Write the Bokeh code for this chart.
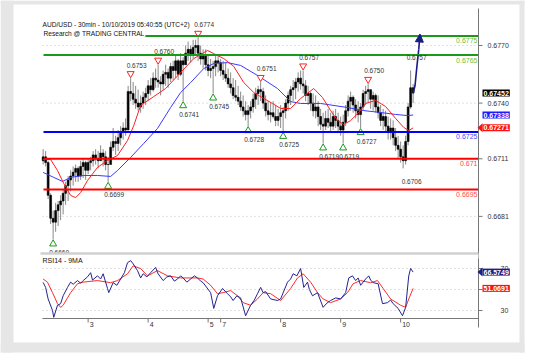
import numpy as np
from bokeh.plotting import figure
from bokeh.models import (Range1d, Label, LabelSet, ColumnDataSource, BoxAnnotation, PolyAnnotation,
                          Arrow, NormalHead)
from bokeh.core.properties import value
from bokeh.embed import file_html
from bokeh.resources import INLINE

# ---------------- data (AUD/USD 30min, hourly candles) ----------------
candle_high = [0.6716, 0.6715, 0.6710, 0.6693, 0.6684, 0.6688, 0.6689, 0.6692, 0.6695, 0.6699,
               0.6702, 0.6705, 0.6707, 0.6708, 0.6707, 0.6710, 0.6711, 0.6710, 0.6711, 0.6712,
               0.6715, 0.6716, 0.6715, 0.6718, 0.6716, 0.6715, 0.6712, 0.6720, 0.6727, 0.6723,
               0.6726, 0.6728, 0.6730, 0.6732, 0.6749, 0.6753, 0.6751, 0.6749, 0.6747, 0.6744,
               0.6746, 0.6748, 0.6752, 0.6753, 0.6756, 0.6758, 0.6760, 0.6754, 0.6757, 0.6760,
               0.6758, 0.6761, 0.6762, 0.6765, 0.6763, 0.6766, 0.6764, 0.6770, 0.6772, 0.6770,
               0.6773, 0.6773, 0.6774, 0.6770, 0.6768, 0.6768, 0.6765, 0.6763, 0.6762, 0.6765,
               0.6765, 0.6763, 0.6762, 0.6761, 0.6758, 0.6756, 0.6753, 0.6752, 0.6749, 0.6746,
               0.6744, 0.6741, 0.6739, 0.6741, 0.6745, 0.6748, 0.6749, 0.6751, 0.6748, 0.6744,
               0.6741, 0.6740, 0.6741, 0.6739, 0.6737, 0.6739, 0.6738, 0.6742, 0.6746, 0.6749,
               0.6752, 0.6753, 0.6756, 0.6757, 0.6757, 0.6752, 0.6749, 0.6746, 0.6745, 0.6744,
               0.6741, 0.6737, 0.6735, 0.6736, 0.6737, 0.6735, 0.6736, 0.6737, 0.6735, 0.6733,
               0.6734, 0.6739, 0.6744, 0.6746, 0.6744, 0.6742, 0.6741, 0.6740, 0.6747, 0.6749,
               0.6750, 0.6747, 0.6746, 0.6745, 0.6744, 0.6739, 0.6737, 0.6736, 0.6733, 0.6732,
               0.6731, 0.6727, 0.6723, 0.6720, 0.6718, 0.6723, 0.6740, 0.6757, 0.6750]
candle_low = [0.6708, 0.6707, 0.6690, 0.6677, 0.6669, 0.6673, 0.6676, 0.6679, 0.6682, 0.6687,
              0.6689, 0.6694, 0.6697, 0.6699, 0.6699, 0.6700, 0.6701, 0.6700, 0.6703, 0.6705,
              0.6707, 0.6708, 0.6706, 0.6710, 0.6707, 0.6705, 0.6699, 0.6710, 0.6715, 0.6713,
              0.6715, 0.6718, 0.6721, 0.6723, 0.6728, 0.6741, 0.6739, 0.6737, 0.6736, 0.6735,
              0.6737, 0.6739, 0.6741, 0.6744, 0.6746, 0.6748, 0.6748, 0.6744, 0.6747, 0.6749,
              0.6748, 0.6751, 0.6752, 0.6753, 0.6752, 0.6754, 0.6741, 0.6760, 0.6762, 0.6761,
              0.6763, 0.6765, 0.6762, 0.6760, 0.6758, 0.6757, 0.6754, 0.6753, 0.6745, 0.6754,
              0.6756, 0.6754, 0.6752, 0.6751, 0.6748, 0.6745, 0.6742, 0.6741, 0.6739, 0.6736,
              0.6733, 0.6731, 0.6728, 0.6732, 0.6735, 0.6737, 0.6739, 0.6741, 0.6737, 0.6733,
              0.6731, 0.6730, 0.6732, 0.6728, 0.6728, 0.6727, 0.6725, 0.6732, 0.6736, 0.6739,
              0.6741, 0.6742, 0.6746, 0.6747, 0.6745, 0.6741, 0.6739, 0.6736, 0.6733, 0.6732,
              0.6728, 0.6726, 0.6719, 0.6726, 0.6727, 0.6725, 0.6726, 0.6727, 0.6725, 0.6723,
              0.6719, 0.6728, 0.6733, 0.6736, 0.6735, 0.6732, 0.6730, 0.6727, 0.6736, 0.6739,
              0.6740, 0.6737, 0.6736, 0.6735, 0.6732, 0.6728, 0.6726, 0.6725, 0.6721, 0.6721,
              0.6718, 0.6715, 0.6711, 0.6709, 0.6706, 0.6708, 0.6718, 0.6737, 0.6740]
candle_close = [0.6712, 0.6709, 0.6692, 0.6680, 0.6678, 0.6684, 0.6687, 0.6689, 0.6693, 0.6697,
                0.6700, 0.6702, 0.6704, 0.6706, 0.6702, 0.6707, 0.6709, 0.6705, 0.6709, 0.6710,
                0.6713, 0.6711, 0.6710, 0.6714, 0.6712, 0.6708, 0.6708, 0.6717, 0.6720, 0.6719,
                0.6722, 0.6725, 0.6727, 0.6726, 0.6746, 0.6745, 0.6742, 0.6740, 0.6738, 0.6740,
                0.6743, 0.6745, 0.6749, 0.6747, 0.6753, 0.6752, 0.6751, 0.6750, 0.6755, 0.6756,
                0.6753, 0.6759, 0.6757, 0.6762, 0.6755, 0.6762, 0.6760, 0.6766, 0.6768, 0.6765,
                0.6769, 0.6770, 0.6766, 0.6763, 0.6765, 0.6760, 0.6757, 0.6758, 0.6759, 0.6762,
                0.6761, 0.6757, 0.6755, 0.6753, 0.6750, 0.6748, 0.6744, 0.6743, 0.6741, 0.6738,
                0.6736, 0.6734, 0.6736, 0.6738, 0.6742, 0.6745, 0.6747, 0.6746, 0.6740, 0.6736,
                0.6734, 0.6735, 0.6733, 0.6731, 0.6733, 0.6735, 0.6736, 0.6740, 0.6744, 0.6747,
                0.6748, 0.6751, 0.6753, 0.6750, 0.6749, 0.6744, 0.6745, 0.6740, 0.6736, 0.6738,
                0.6733, 0.6729, 0.6728, 0.6732, 0.6730, 0.6728, 0.6733, 0.6731, 0.6728, 0.6726,
                0.6730, 0.6736, 0.6741, 0.6743, 0.6739, 0.6736, 0.6734, 0.6738, 0.6745, 0.6746,
                0.6747, 0.6742, 0.6744, 0.6738, 0.6735, 0.6731, 0.6733, 0.6728, 0.6725, 0.6727,
                0.6722, 0.6718, 0.6716, 0.6712, 0.6710, 0.6720, 0.6738, 0.6748, 0.67452]
first_open = 0.6710
candle_idx = list(range(0, 2 * len(candle_close), 2))   # 30-min bar index of each hourly candle

# moving averages
ma_fast_idx = [0, 6, 11.5, 16.5, 22, 26, 30, 35.5, 43.5, 51.5, 59.5, 67.5, 72.5, 78, 88.5, 98, 110,
               120.5, 131.5, 136.5, 144.5, 152.5, 160.5, 168.5, 176.5, 183.5, 190, 198, 206, 216.5,
               223.5, 230, 235.5, 240.5, 246, 252.5, 258, 266, 274, 282, 288.5, 292.5, 296]
ma_fast = [0.67106, 0.67106, 0.67049, 0.66981, 0.66919, 0.66908, 0.66934, 0.66997, 0.67065, 0.67101,
           0.67127, 0.67205, 0.67283, 0.67388, 0.67434, 0.67476, 0.67559, 0.67632, 0.67674, 0.67658,
           0.67632, 0.67591, 0.67507, 0.67455, 0.67424, 0.67398, 0.67372, 0.67372, 0.67424, 0.67476,
           0.67429, 0.67361, 0.67309, 0.67289, 0.67309, 0.67351, 0.67398, 0.67414, 0.67382, 0.67320,
           0.67273, 0.67257, 0.67271]
ma_slow_idx = [0, 8.5, 15.5, 22, 32.5, 43.5, 54, 59.5, 70, 80.5, 91.5, 102, 110, 118, 128.5, 136.5,
               147.5, 158, 171.5, 187.5, 198, 206, 222, 243.5, 256.5, 270, 282, 291.5, 296]
ma_slow = [0.67039, 0.67013, 0.66992, 0.67013, 0.67023, 0.67023, 0.67018, 0.67049, 0.67117, 0.67190,
           0.67268, 0.67377, 0.67455, 0.67507, 0.67580, 0.67606, 0.67611, 0.67596, 0.67544, 0.67476,
           0.67408, 0.67398, 0.67398, 0.67377, 0.67361, 0.67351, 0.67341, 0.67335, 0.67338]

# RSI14 and its 9-period MA
rsi_idx = [0, 2, 4, 7.5, 8.5, 11.5, 14, 16, 19.5, 22, 24, 27.5, 30, 32, 35.5, 38, 39.5, 43.5, 46, 48,
           51.5, 52.5, 56, 59, 62, 65, 67.5, 70, 72, 75.5, 78, 80, 83, 86, 90, 92, 96, 99, 102, 105,
           107.5, 110, 112, 115, 118, 121, 123.5, 126, 128, 134, 136.5, 139.5, 143.5, 147.5, 150,
           152, 155, 158, 162, 166, 169, 171.5, 174, 176, 178, 182, 187.5, 190, 195.5, 198, 200,
           203, 206, 208.5, 211.5, 213, 215.5, 219.5, 224, 227, 230, 234, 238, 242, 244.5, 247.5,
           250, 252, 254, 258, 260.5, 262, 264, 268, 271.5, 275.5, 278, 280, 284, 287.5, 290,
           292.5, 294, 296]
rsi = [56.7, 52, 41, 30, 23.5, 35, 36.5, 44, 52, 57, 55, 58.5, 56, 58.5, 62, 66, 59, 63, 60, 65,
       51, 47, 56.5, 54, 60, 66, 75.5, 77.5, 74.5, 68, 61, 65, 62, 66, 71, 65, 58.5, 62, 63, 58,
       60, 63, 61, 57, 60, 63, 61, 58, 56.5, 47, 32, 44, 51, 46, 43,
       39.5, 44, 42, 25, 35, 40, 46, 52, 47, 48, 41, 39.5, 41, 57, 60, 65,
       63, 70, 52, 57, 50, 44, 47, 33, 37, 39.5, 42, 41, 47, 61, 63,
       58.5, 61, 54, 60, 63, 59, 56.5, 55.5, 36.5, 37.5, 40, 36.5, 32, 25, 33,
       63, 70, 66.5749]
rsi_ma_idx = [0, 3.5, 7.5, 11.5, 14, 16, 22, 27.5, 32, 43.5, 54, 59.5, 67.5, 72, 78, 83.5, 91.5, 99.5,
              110, 123.5, 128, 134, 139.5, 144, 150, 155.5, 160, 166, 171.5, 176, 182, 190, 198,
              203.5, 208, 214, 219.5, 224, 230, 238, 243.5, 248, 254, 262, 267.5, 272, 278, 286,
              290, 292.5, 296]
rsi_ma = [60, 57, 47, 36.5, 33, 35, 47, 55.5, 57, 58.5, 56.5, 58.5, 65, 72.5, 70, 63, 68, 63,
          61, 61, 60, 54, 46, 47, 49, 44, 37.5, 35, 41, 47, 46, 39.5, 51,
          61, 65, 57, 47, 41, 37.5, 41, 47, 55.5, 58.5, 56.5, 58.5, 51, 41, 35,
          33, 41, 51.0691]

# swing highs / lows
high_idx = [70, 92, 124, 174, 208, 260]
high_val = [0.6753, 0.6760, 0.6774, 0.6751, 0.6757, 0.6750]
low_idx = [8, 52, 112, 136, 164, 192, 224, 240, 254]
low_val = [0.6669, 0.6699, 0.6741, 0.6745, 0.6728, 0.6725, 0.6719, 0.6719, 0.6727]
note_idx = [294, 290]            # labelled extremes without a marker
note_val = [0.6757, 0.6706]
note_is_high = [True, False]

# key levels
level_val = [0.6775, 0.6765, 0.6725, 0.6711, 0.6695]
level_text = ["0.6775", "0.6765", "0.6725", "0.671", "0.6695"]
level_kind = ["target", "target", "pivot", "support", "support"]

# projected path (arrow)
proj_idx = [296, 297.5, 299, 300.5, 301.5]
proj_val = [0.67452, 0.6749, 0.6759, 0.6768, 0.6776]

# axes
price_ticks = [0.6681, 0.6711, 0.6740, 0.6770]
rsi_ticks = [30, 50, 70]
rsi_tick_labels = ["30", "50", "70"]
day_idx = [36, 84, 132, 142, 190, 238, 286]
day_labels = ["3", "4", "5", "7", "8", "9", "10"]

last_close = 0.67452
last_slow = 0.67338
last_fast = 0.67271
last_rsi = 66.5749
last_rsi_ma = 51.0691

# ---------------- layout (pixel geometry of the chart panels) ----------------
W, H = 541, 357
CL, CR = 42, 478            # chart left / right (px)
MT, MB = 14, 253            # main panel top / bottom
RB = 318                    # RSI panel bottom
PX_PER_BAR = 1.25
PX_PER_PRICE = 19200.0      # px per 1.0 of price
PX_PER_RSI = 1.05

# full-canvas frame; ranges chosen so that the chart panels land where they should
X0 = -0.5 - CL / PX_PER_BAR
X1 = X0 + W / PX_PER_BAR
Y1 = 0.6770 + 45 / PX_PER_PRICE
Y0 = Y1 - H / PX_PER_PRICE
R1 = 50 + 289 / PX_PER_RSI
R0 = R1 - H / PX_PER_RSI
DX = 1 / PX_PER_BAR
DY = 1 / PX_PER_PRICE


def sx(px):
    return X0 + px * DX


def sy(py):
    return Y1 - py * DY


def rsi_py(r):
    return (R1 - r) * PX_PER_RSI


FONT = "Liberation Sans"
TXT = "#333333"

p = figure(width=W, height=H, x_range=Range1d(X0, X1), y_range=Range1d(Y0, Y1),
           output_backend="svg", toolbar_location=None,
           min_border_left=0, min_border_right=0, min_border_top=0, min_border_bottom=0)
p.extra_y_ranges = {"rsi": Range1d(R0, R1)}
p.xaxis.visible = False
p.yaxis.visible = False
p.outline_line_color = None
p.xgrid.visible = False
p.ygrid.visible = False
p.background_fill_color = "white"
p.border_fill_color = "white"

# outer grey frame of the panel
G = "#e6e6e6"
for (l, r, t, b) in [(0, 524, 0, 4), (0, 13, 0, 352), (519, 524, 0, 352), (0, 524, 342, 352)]:
    p.quad(left=sx(l), right=sx(r), top=sy(t), bottom=sy(b), fill_color=G, line_color=None)

# dotted grid lines
n = len(price_ticks)
p.segment(x0=[sx(CL)] * n, y0=price_ticks, x1=[sx(CR)] * n, y1=price_ticks,
          line_color="#c4c4c4", line_dash="1 3", line_width=1)
p.segment(x0=[sx(CL)] * 3, y0=rsi_ticks, x1=[sx(CR)] * 3, y1=rsi_ticks, y_range_name="rsi",
          line_color="#c4c4c4", line_dash="1 3", line_width=1)

# candles
c = np.array(candle_close)
o = np.array([first_open] + candle_close[:-1])
p.segment(x0=candle_idx, y0=candle_low, x1=candle_idx, y1=candle_high, line_color="#8a8a8a", line_width=1)
p.vbar(x=candle_idx, width=1.5, top=np.maximum(o, c), bottom=np.minimum(o, c),
       fill_color="black", line_color="black", line_width=0.6)

# moving averages
p.line(ma_slow_idx, ma_slow, line_color="#3a3aff", line_width=1)
p.line(ma_fast_idx, ma_fast, line_color="#ff1f1f", line_width=1)

# RSI panel
p.line(rsi_ma_idx, rsi_ma, y_range_name="rsi", line_color="#ff2a2a", line_width=1)
p.line(rsi_idx, rsi, y_range_name="rsi", line_color="#23238f", line_width=1)

# projection path
p.line(proj_idx[:-1], proj_val[:-1], line_color="#1a1a86", line_width=1.6)

# swing markers
p.scatter(high_idx, [v + 4.5 * DY for v in high_val], marker="inverted_triangle",
          size=7, fill_color="white", line_color="#ff2020", line_width=1)
p.scatter(low_idx, [v - 4.5 * DY for v in low_val], marker="triangle",
          size=7, fill_color="white", line_color="#1e9a1e", line_width=1)

# level lines
kind_color = {"target": "#1a9a1a", "pivot": "#0000ff", "support": "#ff0000"}
kind_text = {"target": "#6cbf3a", "pivot": "#4a4aff", "support": "#ff4a4a"}
p.segment(x0=[sx(CL + 1)] * len(level_val), y0=level_val, x1=[sx(CR)] * len(level_val), y1=level_val,
          line_color=[kind_color[k] for k in level_kind], line_width=2)
for v, t, kind in zip(level_val, level_text, level_kind):
    p.add_layout(Label(x=sx(CR - 1), y=v - 5 * DY, text=t, text_align="right", text_baseline="middle",
                       text_font=FONT, text_font_size="7px", text_color=kind_text[kind]))

# axes (drawn through the same scales)
AX = "#777777"
p.segment(x0=[sx(CR)], y0=[sy(8)], x1=[sx(CR)], y1=[sy(327)], line_color=AX, line_width=1)
p.segment(x0=[sx(CL)], y0=[sy(RB)], x1=[sx(CR)], y1=[sy(RB)], line_color=AX, line_width=1)
p.segment(x0=[sx(CR)] * n, y0=price_ticks, x1=[sx(CR + 4)] * n, y1=price_ticks, line_color=AX)
p.segment(x0=[sx(CR)] * 3, y0=rsi_ticks, x1=[sx(CR + 4)] * 3, y1=rsi_ticks, y_range_name="rsi",
          line_color=AX)
p.segment(x0=day_idx, y0=[sy(RB)] * len(day_idx), x1=day_idx, y1=[sy(RB + 4)] * len(day_idx),
          line_color=AX)
p.add_layout(LabelSet(x="x", y="y", text="t",
                      source=ColumnDataSource(dict(x=[sx(CR + 9)] * n, y=price_ticks,
                                                   t=["%.4f" % v for v in price_ticks])),
                      text_align="left", text_baseline="middle", text_font=value(FONT),
                      text_font_size=value("7px"), text_color=TXT))
p.add_layout(LabelSet(x="x", y="y", text="t", y_range_name="rsi",
                      source=ColumnDataSource(dict(x=[sx(CR + 22)] * 3, y=rsi_ticks, t=rsi_tick_labels)),
                      text_align="left", text_baseline="middle", text_font=value(FONT),
                      text_font_size=value("7px"), text_color=TXT))
p.add_layout(LabelSet(x="x", y="y", text="t",
                      source=ColumnDataSource(dict(x=[d + 1.5 * DX for d in day_idx],
                                                   y=[sy(RB + 6)] * len(day_idx), t=day_labels)),
                      text_align="left", text_baseline="middle", text_font=value(FONT),
                      text_font_size=value("7px"), text_color=TXT))

# arrow head of the projection
p.add_layout(Arrow(end=NormalHead(size=8, fill_color="#1a1a86", line_color="#1a1a86"),
                   x_start=proj_idx[-2], y_start=proj_val[-2], x_end=proj_idx[-1], y_end=proj_val[-1],
                   line_color="#1a1a86", line_width=1.6))

# swing labels
lab_x, lab_y, lab_t = [], [], []
for i, v in zip(high_idx, high_val):
    lab_x.append(i - 4 * DX); lab_y.append(v + 13 * DY); lab_t.append("%.4f" % v)
for i, v in zip(low_idx, low_val):
    lab_x.append(i - 4 * DX); lab_y.append(v - 13 * DY); lab_t.append("%.4f" % v)
for i, v, hi in zip(note_idx, note_val, note_is_high):
    lab_x.append(i - 4 * DX); lab_y.append(v + 13 * DY if hi else v - 13 * DY); lab_t.append("%.4f" % v)
p.add_layout(LabelSet(x="x", y="y", text="t", source=ColumnDataSource(dict(x=lab_x, y=lab_y, t=lab_t)),
                      text_align="left", text_baseline="middle", text_font=value(FONT),
                      text_font_size=value("6.5px"), text_color=TXT))

# titles
p.add_layout(Label(x=sx(CL), y=sy(24), text="AUD/USD - 30min - 10/10/2019 05:40:55 (UTC+2)",
                   text_align="left", text_baseline="middle", text_font=FONT, text_font_size="6.6px",
                   text_color="#111111"))
p.add_layout(Label(x=sx(CL), y=sy(32.5), text="Research @ TRADING CENTRAL", text_align="left",
                   text_baseline="middle", text_font=FONT, text_font_size="6.6px", text_color="#111111",
                   background_fill_color="white", padding=1))

# panel separator
p.add_layout(BoxAnnotation(left=sx(CL), right=sx(CR), top=sy(MB + 0.5), bottom=sy(MB + 5),
                           fill_color="white", fill_alpha=1, line_color=None))
p.add_layout(BoxAnnotation(left=sx(CL - 2), right=sx(CR), top=sy(MB - 1.2), bottom=sy(MB + 1.2),
                           fill_color="#d0d0d0", fill_alpha=1, line_color=None))
p.add_layout(Label(x=sx(CL), y=sy(260), text="RSI14 - 9MA", text_align="left", text_baseline="middle",
                   text_font=FONT, text_font_size="7px", text_color="#111111"))


def value_box(yv, text, bg, pointer):
    p.add_layout(Label(x=sx(CR + 4), y=yv, text=text, text_align="left", text_baseline="middle",
                       text_font=FONT, text_font_size="7px", text_font_style="bold", text_color="white",
                       background_fill_color=bg, padding=1))
    if pointer:
        p.add_layout(PolyAnnotation(xs=[sx(CR - 1), sx(CR + 4), sx(CR + 4)],
                                    ys=[yv, yv + 4.5 * DY, yv - 4.5 * DY],
                                    fill_color=bg, fill_alpha=1, line_color=None))


value_box(last_close, "%.5f" % last_close, "#000000", False)
value_box(last_slow, "%.5f" % last_slow, "#1c1cff", False)
value_box(last_fast, "%.5f" % last_fast, "#ff1010", True)
value_box(sy(rsi_py(last_rsi)), "%.4f" % last_rsi, "#1c1c8a", True)
value_box(sy(rsi_py(last_rsi_ma)), "%.4f" % last_rsi_ma, "#ff1010", False)

open("out.html", "w").write(file_html(p, INLINE))
